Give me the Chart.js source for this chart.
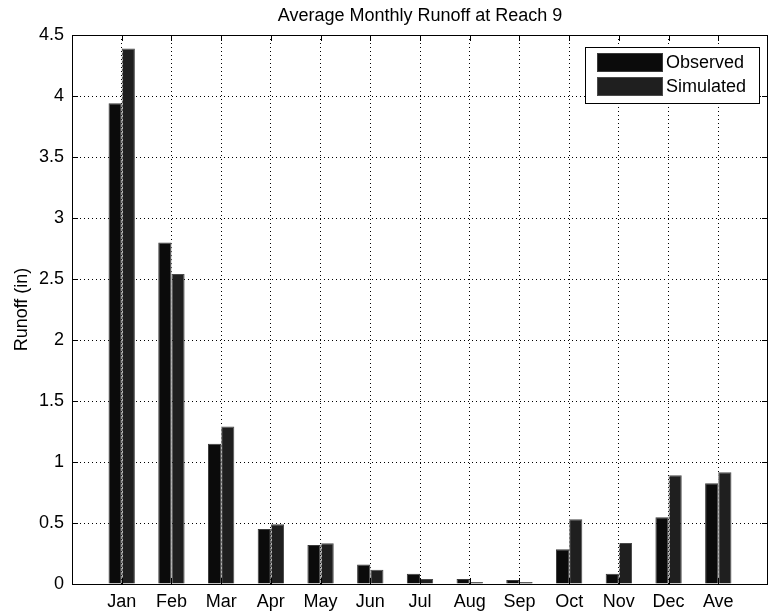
<!DOCTYPE html>
<html>
<head>
<meta charset="utf-8">
<script src="https://cdn.jsdelivr.net/npm/chart.js@4/dist/chart.umd.min.js"></script>
<style>
  html, body { margin: 0; padding: 0; background: #fff; }
  #wrap { width: 769px; height: 613px; }
</style>
</head>
<body>
<div id="wrap"><canvas id="runoffChart"></canvas></div>
<script>
const categories = ['Jan', 'Feb', 'Mar', 'Apr', 'May', 'Jun', 'Jul', 'Aug', 'Sep', 'Oct', 'Nov', 'Dec', 'Ave'];
const observed = [3.94, 2.80, 1.15, 0.45, 0.32, 0.16, 0.085, 0.041, 0.033, 0.284, 0.085, 0.547, 0.825];
const simulated = [4.39, 2.54, 1.29, 0.49, 0.333, 0.117, 0.041, 0.016, 0.016, 0.53, 0.336, 0.891, 0.915];
const yTicks = [0, 0.5, 1, 1.5, 2, 2.5, 3, 3.5, 4, 4.5];

const FONT = '"Liberation Sans", Arial, Helvetica, sans-serif';

function toPoints(values) {
    return values.map((v, i) => ({ x: i + 1, y: v }));
}

// MATLAB-like box, inward ticks, grid showing through the bars and legend inside axes
const matlabAxes = {
    id: 'matlabAxes',
    afterDatasetsDraw(chart) {
        const { ctx, chartArea: a, scales: { x } } = chart;
        ctx.save();
        ctx.beginPath();
        chart.data.datasets.forEach((ds, i) => {
            chart.getDatasetMeta(i).data.forEach(bar => {
                const p = bar.getProps(['x', 'y', 'base', 'width'], true);
                ctx.rect(p.x - p.width / 2, p.y, p.width, p.base - p.y);
            });
        });
        ctx.clip();
        ctx.strokeStyle = '#b4b4b4';
        ctx.lineWidth = 1;
        ctx.setLineDash([2, 2]);
        for (let i = 1; i <= categories.length; i++) {
            const px = Math.round(x.getPixelForValue(i)) + 0.5;
            ctx.beginPath();
            ctx.moveTo(px, a.top);
            ctx.lineTo(px, a.bottom);
            ctx.stroke();
        }
        ctx.restore();
    },
    afterDraw(chart) {
        const { ctx, chartArea: a, scales: { x, y } } = chart;
        const tl = 6;
        ctx.save();
        ctx.strokeStyle = '#000';
        ctx.lineWidth = 1;
        ctx.strokeRect(Math.round(a.left) + 0.5, Math.round(a.top) + 0.5,
            Math.round(a.right - a.left) - 1, Math.round(a.bottom - a.top));
        ctx.beginPath();
        for (let i = 1; i <= categories.length; i++) {
            const px = Math.round(x.getPixelForValue(i)) + 0.5;
            ctx.moveTo(px, a.bottom); ctx.lineTo(px, a.bottom - tl);
            ctx.moveTo(px, a.top); ctx.lineTo(px, a.top + tl);
        }
        yTicks.forEach(v => {
            const py = Math.round(y.getPixelForValue(v)) + 0.5;
            ctx.moveTo(a.left, py); ctx.lineTo(a.left + tl, py);
            ctx.moveTo(a.right, py); ctx.lineTo(a.right - tl, py);
        });
        ctx.stroke();

        // legend
        const lx = 585, ly = 47, lw = 174, lh = 56;
        ctx.fillStyle = '#fff';
        ctx.fillRect(lx, ly, lw, lh);
        ctx.strokeRect(lx + 0.5, ly + 0.5, lw, lh);
        ctx.font = '18px ' + FONT;
        ctx.textBaseline = 'middle';
        chart.data.datasets.forEach((ds, i) => {
            const sy = ly + 6 + i * 24;
            ctx.fillStyle = ds.backgroundColor;
            ctx.fillRect(lx + 12, sy, 66, 19);
            ctx.strokeStyle = ds.borderColor;
            ctx.strokeRect(lx + 12.5, sy + 0.5, 65, 18);
            ctx.fillStyle = '#000';
            ctx.fillText(ds.label, lx + 81, sy + 10);
        });
        ctx.restore();
    }
};

new Chart(document.getElementById('runoffChart'), {
    type: 'bar',
    data: {
        datasets: [
            {
                label: 'Observed',
                data: toPoints(observed),
                backgroundColor: '#0b0b0b',
                borderColor: '#3a3a3a',
                borderWidth: 1,
                categoryPercentage: 0.53,
                barPercentage: 1
            },
            {
                label: 'Simulated',
                data: toPoints(simulated),
                backgroundColor: '#1f1f1f',
                borderColor: '#4a4a4a',
                borderWidth: 1,
                categoryPercentage: 0.53,
                barPercentage: 1
            }
        ]
    },
    options: {
        responsive: true,
        maintainAspectRatio: false,
        animation: false,
        layout: { padding: { right: 1 } },
        plugins: {
            legend: { display: false },
            tooltip: { enabled: false },
            title: {
                display: true,
                fullSize: false,
                text: 'Average Monthly Runoff at Reach 9',
                color: '#000',
                font: { family: FONT, size: 18, weight: 'normal' },
                padding: { top: 5, bottom: 8.4 }
            }
        },
        scales: {
            x: {
                type: 'linear',
                min: 0,
                max: 14,
                offset: false,
                afterFit: s => { s.height = 29; },
                afterBuildTicks: s => { s.ticks = categories.map((c, i) => ({ value: i + 1 })); },
                ticks: {
                    autoSkip: false,
                    maxRotation: 0,
                    padding: 7,
                    color: '#000',
                    font: { family: FONT, size: 18 },
                    callback: v => categories[v - 1] || ''
                },
                grid: { offset: false, color: '#000', lineWidth: 1, drawTicks: false },
                border: { display: false, dash: [1, 3] }
            },
            y: {
                min: 0,
                max: 4.5,
                afterFit: s => { s.width = 72; },
                afterBuildTicks: s => { s.ticks = yTicks.map(v => ({ value: v })); },
                ticks: {
                    padding: 8,
                    color: '#000',
                    font: { family: FONT, size: 18 },
                    callback: v => String(v)
                },
                title: {
                    display: true,
                    text: 'Runoff (in)',
                    color: '#000',
                    font: { family: FONT, size: 18 },
                    padding: { top: 11, bottom: 0 }
                },
                grid: { color: '#000', lineWidth: 1, drawTicks: false },
                border: { display: false, dash: [1, 3] }
            }
        }
    },
    plugins: [matlabAxes]
});
</script>
</body>
</html>
